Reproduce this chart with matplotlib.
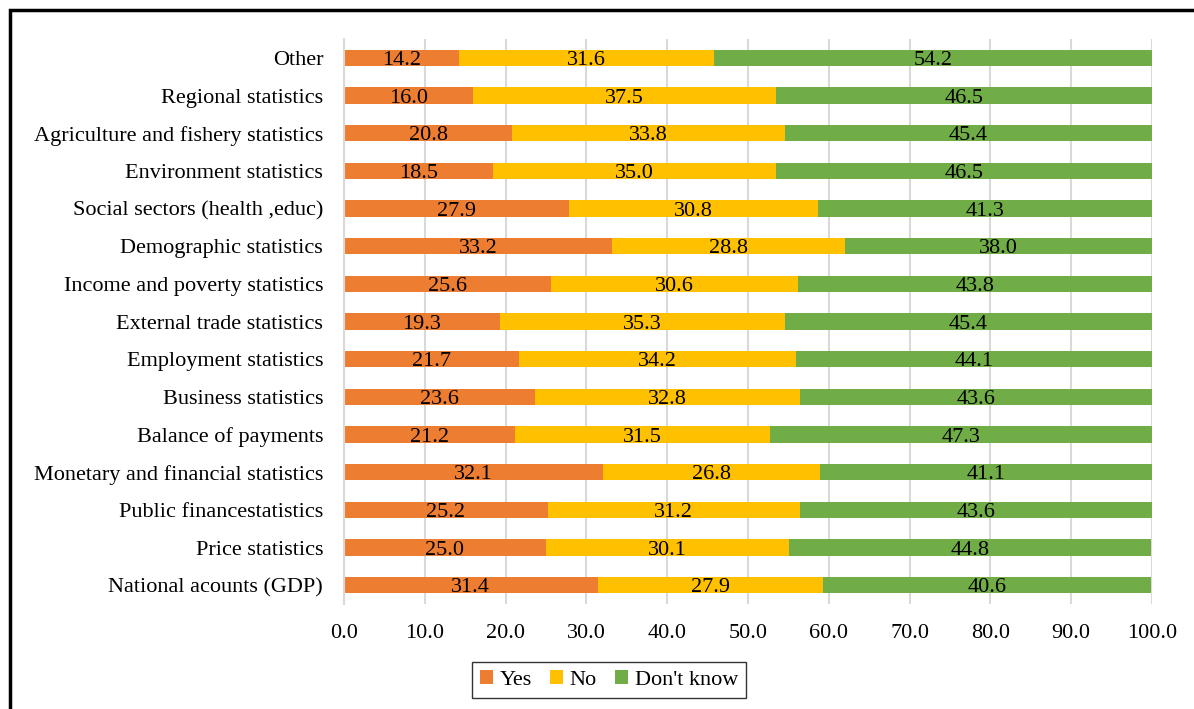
import numpy as np
import matplotlib
matplotlib.use('Agg')
import matplotlib.pyplot as plt
from matplotlib.patches import Rectangle

plt.rcParams['font.family'] = ['Liberation Serif', 'DejaVu Serif']

categories = ['National acounts (GDP)', 'Price statistics', 'Public financestatistics',
              'Monetary and financial statistics', 'Balance of payments', 'Business statistics',
              'Employment statistics', 'External trade statistics', 'Income and poverty statistics',
              'Demographic statistics', 'Social sectors (health ,educ)', 'Environment statistics',
              'Agriculture and fishery statistics', 'Regional statistics', 'Other']
yes = [31.4, 25.0, 25.2, 32.1, 21.2, 23.6, 21.7, 19.3, 25.6, 33.2, 27.9, 18.5, 20.8, 16.0, 14.2]
no = [27.9, 30.1, 31.2, 26.8, 31.5, 32.8, 34.2, 35.3, 30.6, 28.8, 30.8, 35.0, 33.8, 37.5, 31.6]
dont_know = [40.6, 44.8, 43.6, 41.1, 47.3, 43.6, 44.1, 45.4, 43.8, 38.0, 41.3, 46.5, 45.4, 46.5, 54.2]
x_ticks = [0, 10, 20, 30, 40, 50, 60, 70, 80, 90, 100]

series = [('Yes', yes, '#ED7D31'), ('No', no, '#FFC000'), ("Don't know", dont_know, '#70AD47')]
fs = 16

fig = plt.figure(figsize=(11.94, 7.09), dpi=100)
ax = fig.add_axes([0.2881, 0.148, 0.6767, 0.797])

y = np.arange(len(categories))
left = np.zeros(len(categories))
for name, vals, col in series:
    vals = np.array(vals)
    bars = ax.barh(y, vals, left=left, height=0.43, color=col, label=name, zorder=2)
    txts = ax.bar_label(bars, labels=['%.1f' % v for v in vals], label_type='center',
                        fontsize=fs, color='black')
    for t in txts:
        t.set_va('center_baseline')
    left = left + vals

ax.set_xlim(0, 100)
ax.set_ylim(-0.5, len(categories) - 0.5)
ax.set_yticks(y)
ax.set_yticklabels(categories, fontsize=fs)
ax.set_xticks(x_ticks)
ax.set_xticklabels(['%.1f' % t for t in x_ticks], fontsize=fs)
ax.tick_params(length=0)
ax.tick_params(axis='y', pad=15)
ax.tick_params(axis='x', pad=14)
ax.xaxis.grid(True, color='#D9D9D9', linewidth=1.5, zorder=0)
ax.set_axisbelow(True)
for s in ['top', 'right', 'bottom']:
    ax.spines[s].set_visible(False)
ax.spines['left'].set_color('#D9D9D9')
ax.spines['left'].set_linewidth(1.5)

leg = fig.legend(loc='center', bbox_to_anchor=(0.51, 0.041), ncol=3, fontsize=fs,
                 frameon=True, fancybox=False, edgecolor='black', handlelength=0.6,
                 handleheight=0.6, handletextpad=0.3, columnspacing=0.8, borderpad=0.35)
leg.get_frame().set_linewidth(1.0)

# outer frame
fig.patches.append(Rectangle((0.008, -0.05), 1.1, 1.036, transform=fig.transFigure,
                             fill=False, edgecolor='black', linewidth=2.5))

fig.savefig('out.png', dpi=100)
